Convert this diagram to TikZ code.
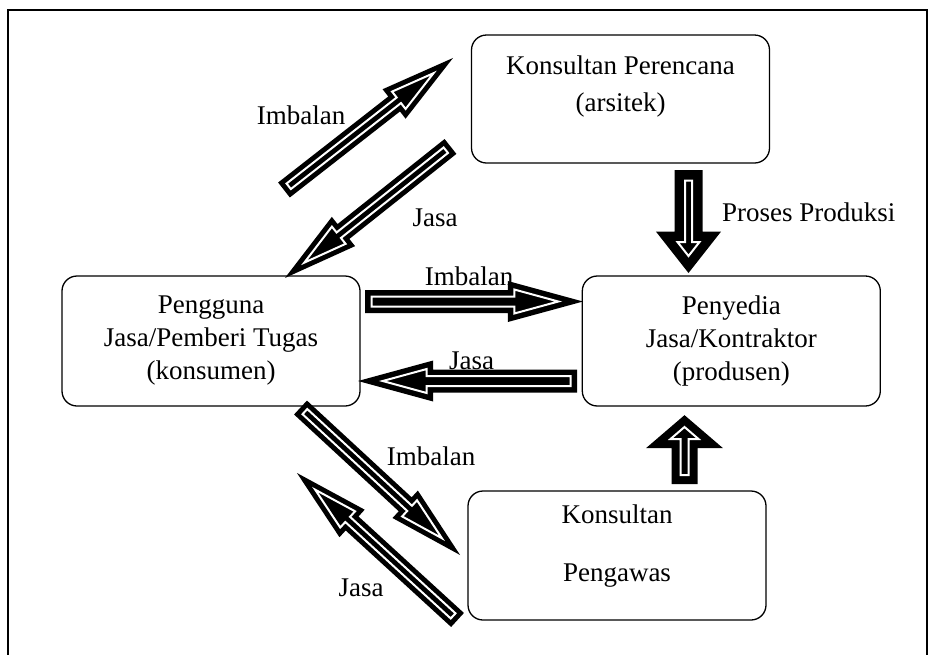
\documentclass[tikz,border=0pt]{standalone}
\usepackage{fontspec}
\setmainfont{Liberation Serif}
\usetikzlibrary{positioning, calc}

% block arrow: [options]{tail}{tip}{shaft half width}{head half width}{head length}
\newcommand{\bigarrow}[6][]{%
  \draw[barrow, #1]
    ($(#2)!#4pt!90:(#3)$) --
    ($(#3)!#6pt!(#2)!#4pt!-90:(#2)$) --
    ($(#3)!#6pt!(#2)!#5pt!-90:(#2)$) --
    (#3) --
    ($(#3)!#6pt!(#2)!#5pt!90:(#2)$) --
    ($(#3)!#6pt!(#2)!#4pt!90:(#2)$) --
    ($(#2)!#4pt!-90:(#3)$) -- cycle;}

\begin{document}
\begin{tikzpicture}[
    x=1pt, y=-1pt,
    box/.style={draw, line width=1.3pt, rounded corners=15pt,
        minimum width=298pt, minimum height=130pt, align=center,
        inner sep=0pt, font=\fontsize{27}{33}\selectfont},
    lbl/.style={inner sep=0pt, font=\fontsize{27}{33}\selectfont},
    barrow/.style={draw=black, fill=black, line width=5.5pt,
        double=white, double distance=2pt, line join=miter}
    ]
    \useasboundingbox (0,0) rectangle (936,654);
    \draw[line width=1.5pt] (8,665) -- (8,10) -- (927,10) -- (927,665);

    % parties
    \node[box] (user) at (211,341) {Pengguna\\Jasa/Pemberi Tugas\\(konsumen)};
    \node[box, right=221pt of user] (prov) {Penyedia\\Jasa/Kontraktor\\(produsen)};
    \node[box, minimum height=128pt] (plan) at (620.5,99)
        {Konsultan Perencana\\[4pt](arsitek)\\[-2pt]\mbox{}};
    \node[box, minimum height=129pt] (supv) at (617,555.5)
        {Konsultan\\[25pt]Pengawas\\[-8pt]\mbox{}};

    % arrow ends
    \coordinate (imb1a) at (288.7,186.3);
    \coordinate (imb1b) at (433.5,73.2);
    \coordinate (jasa1a) at (445.8,150.2);
    \coordinate (jasa1b) at (304.3,262.6);
    \coordinate (imb2a) at (371.5,301.5);
    \coordinate (imb2b) at (558.3,301.5);
    \coordinate (jasa2a) at (570.5,381);
    \coordinate (jasa2b) at (382.7,381);
    \coordinate (imb3a) at (304.9,411.6);
    \coordinate (imb3b) at (441.9,538.2);
    \coordinate (jasa3a) at (453.1,615.9);
    \coordinate (jasa3b) at (315.2,489.7);
    \coordinate (proda) at (688.5,180.5);
    \coordinate (prodb) at (688.5,256);
    \coordinate (ctrla) at (684.5,475);
    \coordinate (ctrlb) at (684.5,427);

    \bigarrow[line width=5pt]{imb1a}{imb1b}{3.5}{11}{44}
    \bigarrow[line width=5pt]{jasa1a}{jasa1b}{3.5}{11}{44}
    \bigarrow{imb2a}{imb2b}{5}{12}{44}
    \bigarrow{jasa2a}{jasa2b}{5}{12}{44}
    \bigarrow[line width=5pt]{imb3a}{imb3b}{3.5}{11}{44}
    \bigarrow[line width=5pt]{jasa3a}{jasa3b}{3.5}{11}{44}
    \bigarrow[line width=9.5pt]{proda}{prodb}{3.5}{11}{14}
    \bigarrow[line width=8pt]{ctrla}{ctrlb}{4}{14}{12}

    % labels
    \node[lbl] (imb1) at (301,115) {Imbalan};
    \node[lbl] (jasa1) at (435,218) {Jasa};
    \node[lbl] (imb2) at (469,276) {Imbalan};
    \node[lbl] (jasa2) at (471.5,361) {Jasa};
    \node[lbl] (imb3) at (431,456) {Imbalan};
    \node[lbl] (jasa3) at (361,588) {Jasa};
    \node[lbl, anchor=west] (prod) at (722,212) {Proses Produksi};
\end{tikzpicture}
\end{document}
